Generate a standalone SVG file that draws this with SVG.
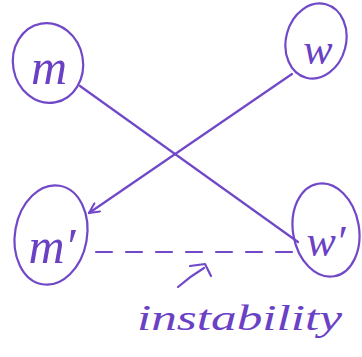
<svg xmlns="http://www.w3.org/2000/svg" width="362" height="357" viewBox="0 0 362 357">
<defs>
<style>
.s{fill:none;stroke:#7048c8;stroke-width:2.2;stroke-linecap:round;stroke-linejoin:round}
.t{fill:#6a40c4;font-family:"Liberation Serif",serif;font-style:italic}
</style>
<marker id="ah" viewBox="0 0 12 12" refX="11" refY="6" markerWidth="12" markerHeight="12" markerUnits="userSpaceOnUse" orient="auto">
<path d="M1,1 L11,6 L1,11" fill="none" stroke="#7048c8" stroke-width="2" stroke-linecap="round"/>
</marker>
</defs>
<rect width="362" height="357" fill="#ffffff"/>
<g id="connectors">
<line class="s" x1="80" y1="86" x2="298" y2="242"/>
<line class="s" x1="292" y1="74" x2="89" y2="213" marker-end="url(#ah)"/>
<line class="s" x1="96" y1="252" x2="296" y2="252" stroke-dasharray="16,14"/>
<path class="s" d="M178,287 C186,280 194,274 204,268 M190,266 L205,264 L211,276"/>
</g>
<g id="node-m">
<ellipse class="s" cx="48" cy="63" rx="35" ry="40" transform="rotate(-10 48 63)"/>
<text class="t" x="49" y="84" font-size="50" text-anchor="middle">m</text>
</g>
<g id="node-w">
<ellipse class="s" cx="316" cy="41" rx="30" ry="38" transform="rotate(15 316 41)"/>
<text class="t" x="318" y="64" font-size="44" text-anchor="middle">w</text>
</g>
<g id="node-m2">
<ellipse class="s" cx="51" cy="235" rx="36" ry="50" transform="rotate(10 51 235)"/>
<text class="t" x="52" y="263" font-size="50" text-anchor="middle">m′</text>
</g>
<g id="node-w2">
<ellipse class="s" cx="326" cy="230" rx="33" ry="47" transform="rotate(-10 326 230)"/>
<text class="t" x="326" y="256" font-size="44" text-anchor="middle">w′</text>
</g>
<text class="t" x="137" y="330" font-size="36" textLength="205" lengthAdjust="spacingAndGlyphs">instability</text>
</svg>
